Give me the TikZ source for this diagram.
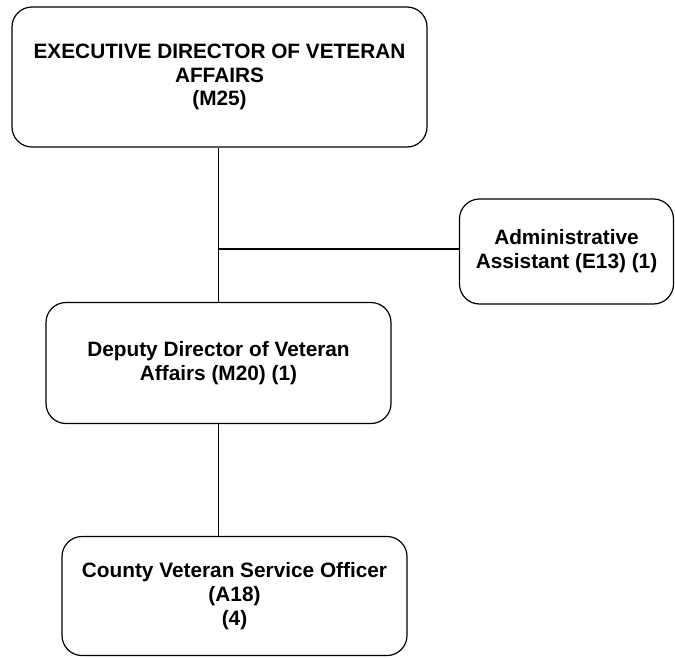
\documentclass[tikz,border=0pt]{standalone}
\usepackage{fontspec}
\setmainfont{Liberation Sans}
\begin{document}
\begin{tikzpicture}[x=1pt,y=-1pt,
  orgbox/.style={draw=black,line width=1.2pt,rounded corners=20pt,align=center,
    font=\bfseries\fontsize{20.8}{23.8}\selectfont,inner sep=0pt},
  link/.style={draw=black,line width=1.2pt}]
\useasboundingbox (0,0) rectangle (675,658);
\node[orgbox,minimum width=415pt,minimum height=140pt] (exec) at (219.5,77)
  {EXECUTIVE DIRECTOR OF VETERAN\\AFFAIRS\\(M25)};
\node[orgbox,minimum width=214pt,minimum height=105pt] (admin) at (566.5,251.5)
  {Administrative\\Assistant (E13) (1)};
\node[orgbox,minimum width=345pt,minimum height=121pt] (deputy) at (218.5,363)
  {Deputy Director of Veteran\\Affairs (M20) (1)};
\node[orgbox,minimum width=345pt,minimum height=119pt] (county) at (234.5,596)
  {County Veteran Service Officer\\(A18)\\(4)};
\coordinate (j) at (218.5,249);
\draw[link] (deputy.north) -- (deputy.north |- exec.south);
\draw[link] (j) -- (j -| admin.west);
\draw[link] (deputy.south) -- (deputy.south |- county.north);
\end{tikzpicture}
\end{document}
